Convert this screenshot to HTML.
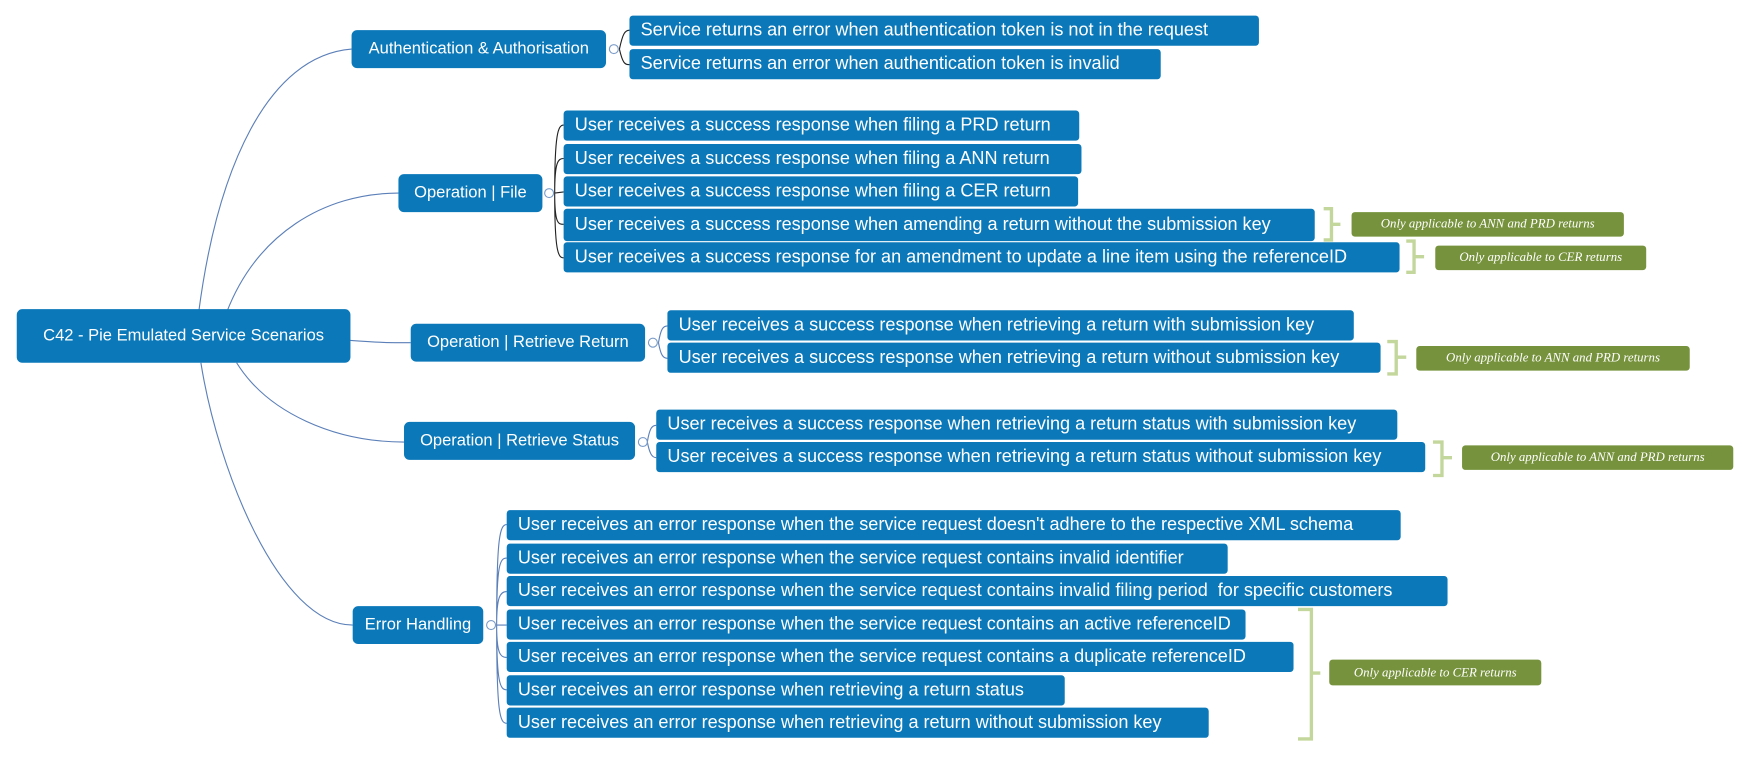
<!DOCTYPE html>
<html><head><meta charset="utf-8"><style>
html,body{margin:0;padding:0;background:#fff;width:1750px;height:759px;overflow:hidden}
#c{position:absolute;left:0;top:0;width:1568px;height:680px;transform:scale(1.11607,1.1162);transform-origin:0 0;font-family:"Liberation Sans",sans-serif}
.b{position:absolute;background:#0a78b9;color:#fff;border-radius:3px;font-size:16.2px;white-space:nowrap;overflow:hidden;box-sizing:border-box;padding-left:10px;display:flex;align-items:center}
.p{border-radius:5px;justify-content:center;padding:0;font-size:14.8px}
.g{position:absolute;background:#76923c;color:#fff;border-radius:3px;font-family:"Liberation Serif",serif;font-style:italic;font-size:11.5px;display:flex;align-items:center;justify-content:center;white-space:nowrap}
svg{position:absolute;left:0;top:0}
</style></head><body><div id="c">
<svg width="1568" height="680">
<g fill="none" stroke="#5b7fb8" stroke-width="1">
<path d="M178,280 C195,150 240,50 315,44"/>
<path d="M203,280 C230,210 290,173 357,173"/>
<path d="M314,305 C340,307 350,307 368,307"/>
<path d="M212,325 C240,370 300,396 362,396"/>
<path d="M180,325 C195,420 250,560 316,560"/>
</g>
<g fill="none" stroke="#222" stroke-width="1">
<path d="M555,44 C558,30 560,27 564,27 M555,44 C558,57 560,58 564,58"/>
<path d="M497,173 C497,120 500,112 505,112 M497,173 C497,145 500,142 505,142 M497,173 L505,172 M497,173 C497,200 500,201 505,201 M497,173 C497,225 500,231 505,231"/>
</g>
<g fill="none" stroke="#5b7fb8" stroke-width="1">
<path d="M590,307 C592,295 594,292 598,292 M590,307 C592,318 594,321 598,321"/>
<path d="M580,396 C582,384 584,381 588,381 M580,396 C582,406 584,410 588,410"/>
<path d="M445,560 C445,480 448,470 454,470 M445,560 C445,505 448,500 454,500 M445,560 C445,535 448,530 454,530 M445,560 L454,560 M445,560 C445,585 448,589 454,589 M445,560 C445,612 448,618 454,618 M445,560 C445,640 448,648 454,648"/>
</g>
<g fill="#fff" stroke="#7a9cc8" stroke-width="1">
<circle cx="550" cy="44" r="4"/><circle cx="492" cy="173" r="4"/><circle cx="585" cy="307" r="4"/><circle cx="576" cy="396" r="4"/><circle cx="440" cy="560" r="4"/>
</g>
<g fill="none" stroke="#c3d69b" stroke-width="3">
<path d="M1186,187 H1193 V215 H1186 M1193,201 H1201"/>
<path d="M1260,216 H1267 V244 H1260 M1267,230 H1276"/>
<path d="M1243,306 H1251 V335 H1243 M1251,320 H1260"/>
<path d="M1284,396 H1292 V426 H1284 M1292,410 H1301"/>
<path d="M1163,546 H1175 V662 H1163 M1175,603 H1183"/>
</g>
</svg>
<div class="b p" style="left:15px;top:277px;width:299px;height:48px">C42 - Pie Emulated Service Scenarios</div>
<div class="b p" style="left:315px;top:27px;width:228px;height:34px">Authentication &amp; Authorisation</div>
<div class="b p" style="left:357px;top:156px;width:129px;height:34px">Operation | File</div>
<div class="b p" style="left:368px;top:290px;width:210px;height:34px">Operation | Retrieve Return</div>
<div class="b p" style="left:362px;top:378px;width:207px;height:34px">Operation | Retrieve Status</div>
<div class="b p" style="left:316px;top:543px;width:117px;height:34px">Error Handling</div>

<div class="b" style="left:564px;top:14px;width:564px;height:27px">Service returns an error when authentication token is not in the request</div>
<div class="b" style="left:564px;top:44px;width:476px;height:27px">Service returns an error when authentication token is invalid</div>

<div class="b" style="left:505px;top:99px;width:462px;height:27px">User receives a success response when filing a PRD return</div>
<div class="b" style="left:505px;top:129px;width:464px;height:27px">User receives a success response when filing a ANN return</div>
<div class="b" style="left:505px;top:158px;width:461px;height:27px">User receives a success response when filing a CER return</div>
<div class="b" style="left:505px;top:187px;width:673px;height:29px">User receives a success response when amending a return without the submission key</div>
<div class="b" style="left:505px;top:217px;width:749px;height:27px">User receives a success response for an amendment to update a line item using the referenceID</div>

<div class="b" style="left:598px;top:278px;width:615px;height:27px">User receives a success response when retrieving a return with submission key</div>
<div class="b" style="left:598px;top:307px;width:639px;height:27px">User receives a success response when retrieving a return without submission key</div>

<div class="b" style="left:588px;top:367px;width:664px;height:27px">User receives a success response when retrieving a return status with submission key</div>
<div class="b" style="left:588px;top:396px;width:689px;height:27px">User receives a success response when retrieving a return status without submission key</div>

<div class="b" style="left:454px;top:457px;width:801px;height:27px">User receives an error response when the service request doesn't adhere to the respective XML schema</div>
<div class="b" style="left:454px;top:487px;width:646px;height:27px">User receives an error response when the service request contains invalid identifier</div>
<div class="b" style="left:454px;top:516px;width:843px;height:27px">User receives an error response when the service request contains invalid filing period&nbsp; for specific customers</div>
<div class="b" style="left:454px;top:546px;width:662px;height:27px">User receives an error response when the service request contains an active referenceID</div>
<div class="b" style="left:454px;top:575px;width:705px;height:27px">User receives an error response when the service request contains a duplicate referenceID</div>
<div class="b" style="left:454px;top:605px;width:500px;height:27px">User receives an error response when retrieving a return status</div>
<div class="b" style="left:454px;top:634px;width:629px;height:27px">User receives an error response when retrieving a return without submission key</div>

<div class="g" style="left:1211px;top:190px;width:244px;height:22px">Only applicable to ANN and PRD returns</div>
<div class="g" style="left:1286px;top:220px;width:189px;height:22px">Only applicable to CER returns</div>
<div class="g" style="left:1269px;top:310px;width:245px;height:22px">Only applicable to ANN and PRD returns</div>
<div class="g" style="left:1310px;top:399px;width:243px;height:22px">Only applicable to ANN and PRD returns</div>
<div class="g" style="left:1191px;top:591px;width:190px;height:23px">Only applicable to CER returns</div>
</div></body></html>
